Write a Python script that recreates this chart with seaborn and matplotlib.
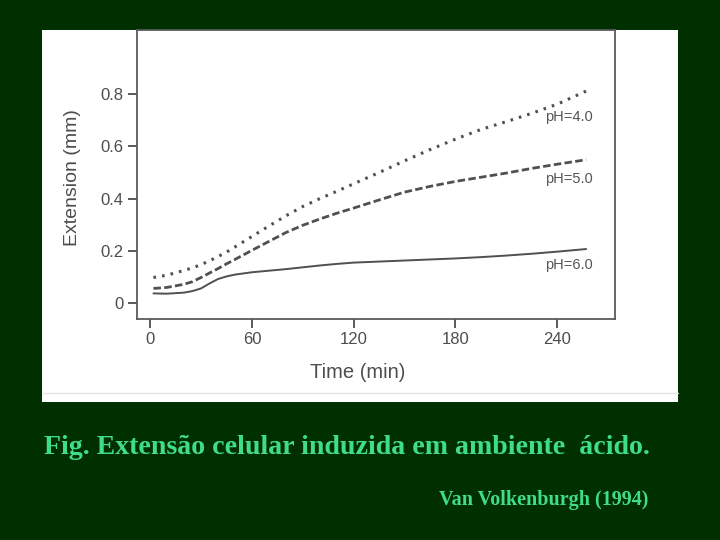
import matplotlib
matplotlib.use("Agg")
import matplotlib.pyplot as plt
import seaborn as sns
import pandas as pd
from matplotlib.patches import Rectangle

# ---- data ----
time_min = [2, 10, 20, 25, 30, 35, 40, 45, 50, 60, 70, 80, 90, 100, 110, 120,
            135, 150, 165, 180, 195, 210, 225, 240, 257]
ph4 = [0.098, 0.107, 0.125, 0.135, 0.147, 0.162, 0.178, 0.195, 0.215, 0.255, 0.295, 0.334,
       0.370, 0.400, 0.428, 0.457, 0.500, 0.545, 0.588, 0.628, 0.665, 0.695, 0.727, 0.762, 0.812]
ph5 = [0.056, 0.060, 0.072, 0.082, 0.098, 0.115, 0.132, 0.150, 0.167, 0.202, 0.236, 0.270,
       0.298, 0.322, 0.344, 0.364, 0.395, 0.425, 0.447, 0.466, 0.482, 0.498, 0.516, 0.532, 0.549]
ph6 = [0.037, 0.036, 0.040, 0.046, 0.056, 0.075, 0.092, 0.102, 0.109, 0.118, 0.124, 0.130,
       0.137, 0.144, 0.150, 0.155, 0.159, 0.163, 0.167, 0.171, 0.176, 0.182, 0.189, 0.197, 0.207]
series_labels = ["pH=4.0", "pH=5.0", "pH=6.0"]
x_ticks = [0, 60, 120, 180, 240]
y_ticks = [0, 0.2, 0.4, 0.6, 0.8]
y_tick_labels = ["0", "0.2", "0.4", "0.6", "0.8"]
caption = "Fig. Extensão celular induzida em ambiente  ácido."
source = "Van Volkenburgh (1994)"

sns.set_theme(style="white")
plt.rcParams["font.family"] = ["Liberation Sans", "DejaVu Sans"]

BG = "#002f00"
INK = "#4d4d4d"
LINE = "#505050"
CAP = "#3fdc8c"

fig = plt.figure(figsize=(7.2, 5.4), dpi=100, facecolor=BG)
# white panel behind the graph
fig.patches.append(Rectangle((42 / 720, 1 - 402 / 540), (678 - 42) / 720, (402 - 30) / 540,
                             transform=fig.transFigure, facecolor="white", edgecolor="none", zorder=-10))
fig.add_artist(plt.Line2D([42 / 720, 678 / 720], [1 - 393 / 540, 1 - 393 / 540],
                          transform=fig.transFigure, color="#e4e4e4", lw=1, zorder=-9))

ax = fig.add_axes([137 / 720, 1 - 319 / 540, (615 - 137) / 720, (319 - 30) / 540])
ax.set_zorder(5)
ax.set_facecolor("white")

n = len(time_min)
df = pd.DataFrame({"t": time_min * 3,
                   "v": ph4 + ph5 + ph6,
                   "s": [series_labels[0]] * n + [series_labels[1]] * n + [series_labels[2]] * n})

styles = {series_labels[0]: (0, (0.85, 2.0)), series_labels[1]: (0, (2.7, 1.2)), series_labels[2]: "-"}
widths = {series_labels[0]: 2.2, series_labels[1]: 2.0, series_labels[2]: 1.4}
for lab in series_labels:
    sub = df[df["s"] == lab]
    sns.lineplot(data=sub, x="t", y="v", ax=ax, color=LINE, lw=widths[lab],
                 linestyle=styles[lab], legend=False)

# series labels
label_pos = {series_labels[0]: 0.713, series_labels[1]: 0.475, series_labels[2]: 0.146}
for lab in series_labels:
    ax.text(261, label_pos[lab], lab, ha="right", va="center", fontsize=10.5, color="#555555")

ax.set_xlim(-7.7, 274)
ax.set_ylim(-0.061, 1.046)
ax.set_xticks(x_ticks)
ax.set_yticks(y_ticks)
ax.set_yticklabels(y_tick_labels)
ax.tick_params(axis="both", which="major", direction="out", length=6.5, width=1.3,
               color=INK, labelcolor=INK, labelsize=12, pad=3,
               bottom=True, left=True)
for sp in ax.spines.values():
    sp.set_color("#5a5a5a")
    sp.set_linewidth(1.3)
    sp.set_visible(True)
ax.set_xlabel("Time (min)", fontsize=14.5, color=INK)
ax.set_ylabel("Extension (mm)", fontsize=14, color=INK)
ax.xaxis.set_label_coords(0.462, -0.152)
ax.yaxis.set_label_coords(-0.118, 0.49)

fig.text(44 / 720, 1 - 448 / 540, caption, ha="left", va="center", color=CAP,
         fontsize=20.1, fontweight="bold", family=["Liberation Serif", "DejaVu Serif"])
fig.text(648 / 720, 1 - 500 / 540, source, ha="right", va="center", color=CAP,
         fontsize=14.5, fontweight="bold", family=["Liberation Serif", "DejaVu Serif"])

fig.savefig("out.png", dpi=100, facecolor=BG)
